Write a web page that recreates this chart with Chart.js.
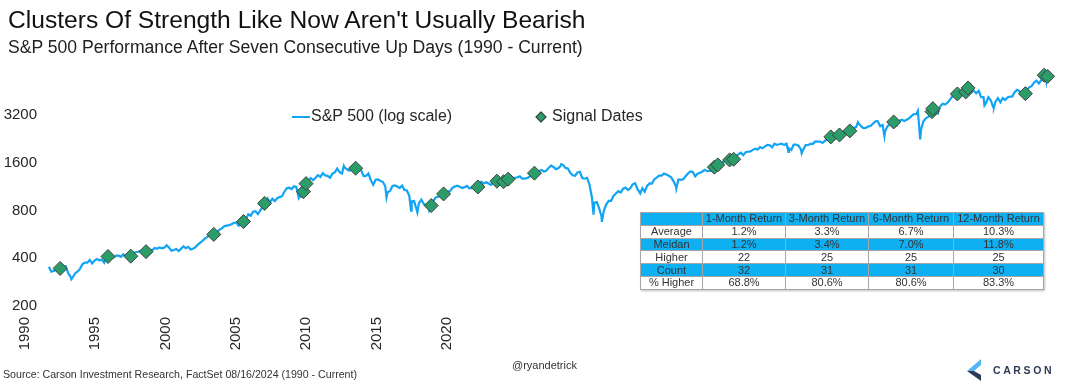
<!DOCTYPE html>
<html>
<head>
<meta charset="utf-8">
<script src="https://cdn.jsdelivr.net/npm/chart.js@4.4.1/dist/chart.umd.min.js"></script>
<style>
  body { margin: 0; width: 1070px; height: 387px; overflow: hidden; background: #fff;
         font-family: "Liberation Sans", Arial, sans-serif; color: #1a1a1a; position: relative; }
  #chart { position: absolute; left: 0; top: 0; }
  .title { position: absolute; left: 8px; top: 6px; font-size: 24.6px; color: #111; white-space: nowrap; }
  .subtitle { position: absolute; left: 8px; top: 37px; font-size: 17.6px; color: #222; white-space: nowrap; }
  .legend { position: absolute; top: 107px; font-size: 16px; color: #262626; white-space: nowrap; }
  .lgLine { position: absolute; left: 292px; top: 116px; width: 18px; height: 2px; background: #12a4f4; }
  .lgDiamond { position: absolute; left: 537px; top: 113px; width: 6px; height: 6px; background: #2a9d69;
               border: 1px solid #3a3a3a; transform: rotate(45deg); }
  table.stats { position: absolute; left: 640px; top: 212px; border-collapse: collapse; background: #fff;
                font-size: 11px; color: #333; box-shadow: 1px 1px 2px rgba(0,0,0,0.25); }
  table.stats td { border: 1px solid #a6a6a6; height: 11.8px; padding: 0; text-align: center; line-height: 11px; }
  table.stats tr.blue td { background: #0fb0f2; }
  .source { position: absolute; left: 3px; top: 368px; font-size: 11px; color: #333; white-space: nowrap;
            transform: scaleX(0.965); transform-origin: left top; }
  .handle { position: absolute; left: 512px; top: 359px; font-size: 11px; color: #333; }
  .logo { position: absolute; left: 967px; top: 359px; }
  .logoText { position: absolute; left: 993px; top: 364px; font-size: 10.5px; font-weight: bold; letter-spacing: 2.6px; color: #2d3a55; }
</style>
</head>
<body>
<canvas id="chart" width="1070" height="387"></canvas>
<div class="title">Clusters Of Strength Like Now Aren't Usually Bearish</div>
<div class="subtitle">S&amp;P 500 Performance After Seven Consecutive Up Days (1990 - Current)</div>
<div class="lgLine"></div>
<div class="legend" style="left:311px">S&amp;P 500 (log scale)</div>
<div class="lgDiamond"></div>
<div class="legend" style="left:552px">Signal Dates</div>
<table class="stats" id="stats"></table>
<div class="source">Source: Carson Investment Research, FactSet 08/16/2024 (1990 - Current)</div>
<div class="handle">@ryandetrick</div>
<svg class="logo" width="18" height="22" viewBox="0 0 18 22">
  <polygon points="14,0 0,12 7,12 14,6" fill="#55b6f2"/>
  <polygon points="0,12 14,22 14,16 7,12" fill="#2d3a55"/>
</svg>
<div class="logoText">CARSON</div>
<script>
// ==================== DATA ====================

// S&P 500 month-end closes, Jan..Dec of each year
const spx1990s = [
    329, 332, 339, 331, 361, 358, 356, 323, 306, 304, 322, 330,
    344, 367, 375, 375, 390, 371, 387, 395, 388, 392, 375, 417,
    409, 413, 404, 415, 415, 408, 424, 414, 418, 419, 431, 436,
    439, 443, 452, 440, 450, 451, 448, 464, 459, 468, 462, 466,
    482, 467, 446, 451, 457, 444, 458, 475, 463, 472, 454, 459,
    470, 487, 501, 515, 533, 545, 562, 562, 584, 582, 605, 616,
    636, 641, 646, 654, 669, 671, 640, 652, 687, 705, 757, 741,
    786, 791, 757, 801, 848, 885, 954, 899, 947, 915, 955, 970,
    980, 1049, 1102, 1112, 1091, 1134, 1121, 957, 1017, 1099, 1164, 1229,
    1280, 1238, 1286, 1335, 1302, 1373, 1329, 1320, 1283, 1363, 1389, 1469
];
const spx2000s = [
    1394, 1366, 1499, 1452, 1421, 1455, 1431, 1518, 1437, 1429, 1315, 1320,
    1366, 1240, 1160, 1249, 1256, 1224, 1211, 1134, 1041, 1060, 1139, 1148,
    1130, 1107, 1147, 1076, 1067, 990, 912, 916, 815, 886, 936, 880,
    856, 841, 848, 917, 964, 975, 990, 1008, 996, 1051, 1058, 1112,
    1131, 1145, 1126, 1107, 1121, 1141, 1102, 1104, 1115, 1130, 1174, 1212,
    1181, 1204, 1181, 1157, 1192, 1191, 1234, 1220, 1229, 1207, 1249, 1248,
    1280, 1281, 1295, 1311, 1270, 1270, 1277, 1304, 1336, 1378, 1401, 1418,
    1438, 1407, 1421, 1482, 1531, 1503, 1455, 1474, 1527, 1549, 1481, 1468,
    1379, 1331, 1323, 1386, 1400, 1280, 1267, 1283, 1165, 969, 896, 903,
    826, 735, 798, 873, 919, 919, 987, 1021, 1057, 1036, 1096, 1115
];
const spx2010s = [
    1074, 1104, 1169, 1187, 1089, 1031, 1102, 1049, 1141, 1183, 1181, 1258,
    1286, 1327, 1326, 1364, 1345, 1321, 1292, 1219, 1131, 1253, 1247, 1258,
    1312, 1366, 1408, 1398, 1310, 1362, 1379, 1407, 1441, 1412, 1416, 1426,
    1498, 1515, 1569, 1598, 1631, 1606, 1686, 1633, 1682, 1757, 1806, 1848,
    1783, 1859, 1872, 1884, 1924, 1960, 1931, 2003, 1972, 2018, 2068, 2059,
    1995, 2105, 2068, 2086, 2107, 2063, 2104, 1972, 1920, 2079, 2080, 2044,
    1940, 1932, 2060, 2065, 2097, 2099, 2174, 2171, 2168, 2126, 2199, 2239,
    2279, 2364, 2363, 2384, 2412, 2423, 2470, 2472, 2519, 2575, 2648, 2674,
    2824, 2714, 2641, 2648, 2705, 2718, 2816, 2902, 2914, 2712, 2760, 2507,
    2704, 2784, 2834, 2946, 2752, 2942, 2980, 2926, 2977, 3038, 3141, 3231
];
const spx2020s = [
    3226, 2954, 2585, 2912, 3044, 3100, 3271, 3500, 3363, 3270, 3622, 3756,
    3714, 3811, 3973, 4181, 4204, 4298, 4395, 4523, 4308, 4605, 4567, 4766,
    4516, 4374, 4530, 4132, 4132, 3785, 4130, 3955, 3586, 3872, 4080, 3840,
    4077, 3970, 4109, 4169, 4180, 4450, 4589, 4508, 4288, 4194, 4568, 4770,
    4846, 5096, 5254, 5036, 5278, 5460, 5522
];

// Intra-month highs / lows and the first and last prints (decimal years)
const spxTurnDates  = [1990.00, 1990.78, 1998.77, 2000.23, 2001.71, 2002.56, 2002.78, 2003.19, 2007.77,
                       2008.89, 2009.18, 2010.51, 2011.76, 2015.65, 2016.11, 2018.06, 2018.72, 2018.98,
                       2020.14, 2020.22, 2022.01, 2022.45, 2022.78, 2023.82, 2024.54, 2024.60, 2024.63];
const spxTurnValues = [353, 295, 960, 1527, 966, 797, 777, 800, 1565,
                       752, 677, 1023, 1099, 1867, 1829, 2873, 2931, 2351,
                       3386, 2237, 4797, 3667, 3577, 4117, 5667, 5186, 5554];

// Seven-up-day signal dates (decimal years) and index level
const signalDates  = [1990.39, 1992.05, 1992.84, 1993.37, 1995.72, 1996.75, 1997.48, 1998.83, 1998.92,
                      2000.64, 2003.26, 2003.69, 2004.88, 2005.54, 2005.77, 2005.93, 2006.84,
                      2013.08, 2013.20, 2013.61, 2013.75, 2017.12, 2017.42, 2017.78, 2019.30,
                      2020.63, 2020.66, 2021.51, 2021.80, 2021.88, 2023.87, 2024.52, 2024.64];
const signalValues = [345, 410, 412, 440, 565, 680, 885, 1050, 1180,
                      1475, 858, 1016, 1124, 1222, 1213, 1258, 1372,
                      1497, 1548, 1663, 1680, 2323, 2390, 2533, 2885,
                      3350, 3500, 4332, 4460, 4725, 4350, 5680, 5590];

const yearTicks  = [1990, 1995, 2000, 2005, 2010, 2015, 2020];
const priceTicks = [200, 400, 800, 1600, 3200];

const tableHeaders   = ['', '1-Month Return', '3-Month Return', '6-Month Return', '12-Month Return'];
const tableRowLabels = ['Average', 'Meidan', 'Higher', 'Count', '% Higher'];
const tableValues    = [
    ['1.2%', '3.3%', '6.7%', '10.3%'],
    ['1.2%', '3.4%', '7.0%', '11.8%'],
    ['22', '25', '25', '25'],
    ['32', '31', '31', '30'],
    ['68.8%', '80.6%', '80.6%', '83.3%']
];

// ==================== TABLE ====================

function buildTable() {
    const widths = [62, 83, 83, 85, 90];
    const table = document.getElementById('stats');
    const head = document.createElement('tr');
    head.className = 'blue';
    tableHeaders.forEach((h, i) => {
        const td = document.createElement('td');
        td.textContent = h;
        td.style.width = (widths[i] - 1) + 'px';
        head.appendChild(td);
    });
    table.appendChild(head);
    tableRowLabels.forEach((label, r) => {
        const tr = document.createElement('tr');
        if (r % 2 === 1) tr.className = 'blue';
        [label, ...tableValues[r]].forEach(v => {
            const td = document.createElement('td');
            td.textContent = v;
            tr.appendChild(td);
        });
        table.appendChild(tr);
    });
}

// ==================== CHART ====================

function buildSeries() {
    const monthly = [...spx1990s, ...spx2000s, ...spx2010s, ...spx2020s];
    const points = monthly.map((v, i) => ({ x: 1990 + (i + 1) / 12, y: v }));
    spxTurnDates.forEach((d, i) => points.push({ x: d, y: spxTurnValues[i] }));
    points.sort((a, b) => a.x - b.x);
    return points;
}

function initializeChart() {
    const tickFont = { family: '"Liberation Sans", Arial, sans-serif', size: 15 };
    const ctx = document.getElementById('chart').getContext('2d');
    new Chart(ctx, {
        type: 'line',
        data: {
            datasets: [{
                type: 'scatter',
                label: 'Signal Dates',
                data: signalDates.map((d, i) => ({ x: d, y: signalValues[i] })),
                pointStyle: 'rectRot',
                pointRadius: 7,
                backgroundColor: '#2a9d69',
                borderColor: '#404040',
                borderWidth: 1,
                order: 0
            }, {
                label: 'S&P 500 (log scale)',
                data: buildSeries(),
                borderColor: '#12a4f4',
                borderWidth: 2.2,
                pointRadius: 0,
                tension: 0,
                order: 1
            }]
        },
        options: {
            responsive: false,
            animation: false,
            layout: { padding: { top: 67, right: 12, bottom: 36, left: 0 } },
            plugins: { legend: { display: false }, tooltip: { enabled: false } },
            scales: {
                x: { type: 'linear', min: 1989.9, max: 2025.0, display: false },
                xl: {
                    type: 'linear',
                    axis: 'x',
                    position: 'bottom',
                    min: 1991.51,
                    max: 2063.39,
                    grid: { display: false, drawTicks: false },
                    border: { display: false },
                    afterBuildTicks: s => { s.ticks = yearTicks.map(v => ({ value: v })); },
                    afterFit: s => { s.height = 45; },
                    ticks: {
                        autoSkip: false, minRotation: 90, maxRotation: 90, padding: 11,
                        font: tickFont, color: '#262626',
                        callback: v => String(v)
                    }
                },
                y: {
                    type: 'logarithmic',
                    min: 200,
                    max: 6400,
                    grid: { display: false, drawTicks: false },
                    border: { display: false },
                    afterBuildTicks: s => { s.ticks = priceTicks.map(v => ({ value: v })); },
                    afterFit: s => { s.width = 46; },
                    ticks: { padding: 9, font: tickFont, color: '#262626', callback: v => String(v) }
                }
            }
        }
    });
}

buildTable();
initializeChart();
</script>
</body>
</html>
